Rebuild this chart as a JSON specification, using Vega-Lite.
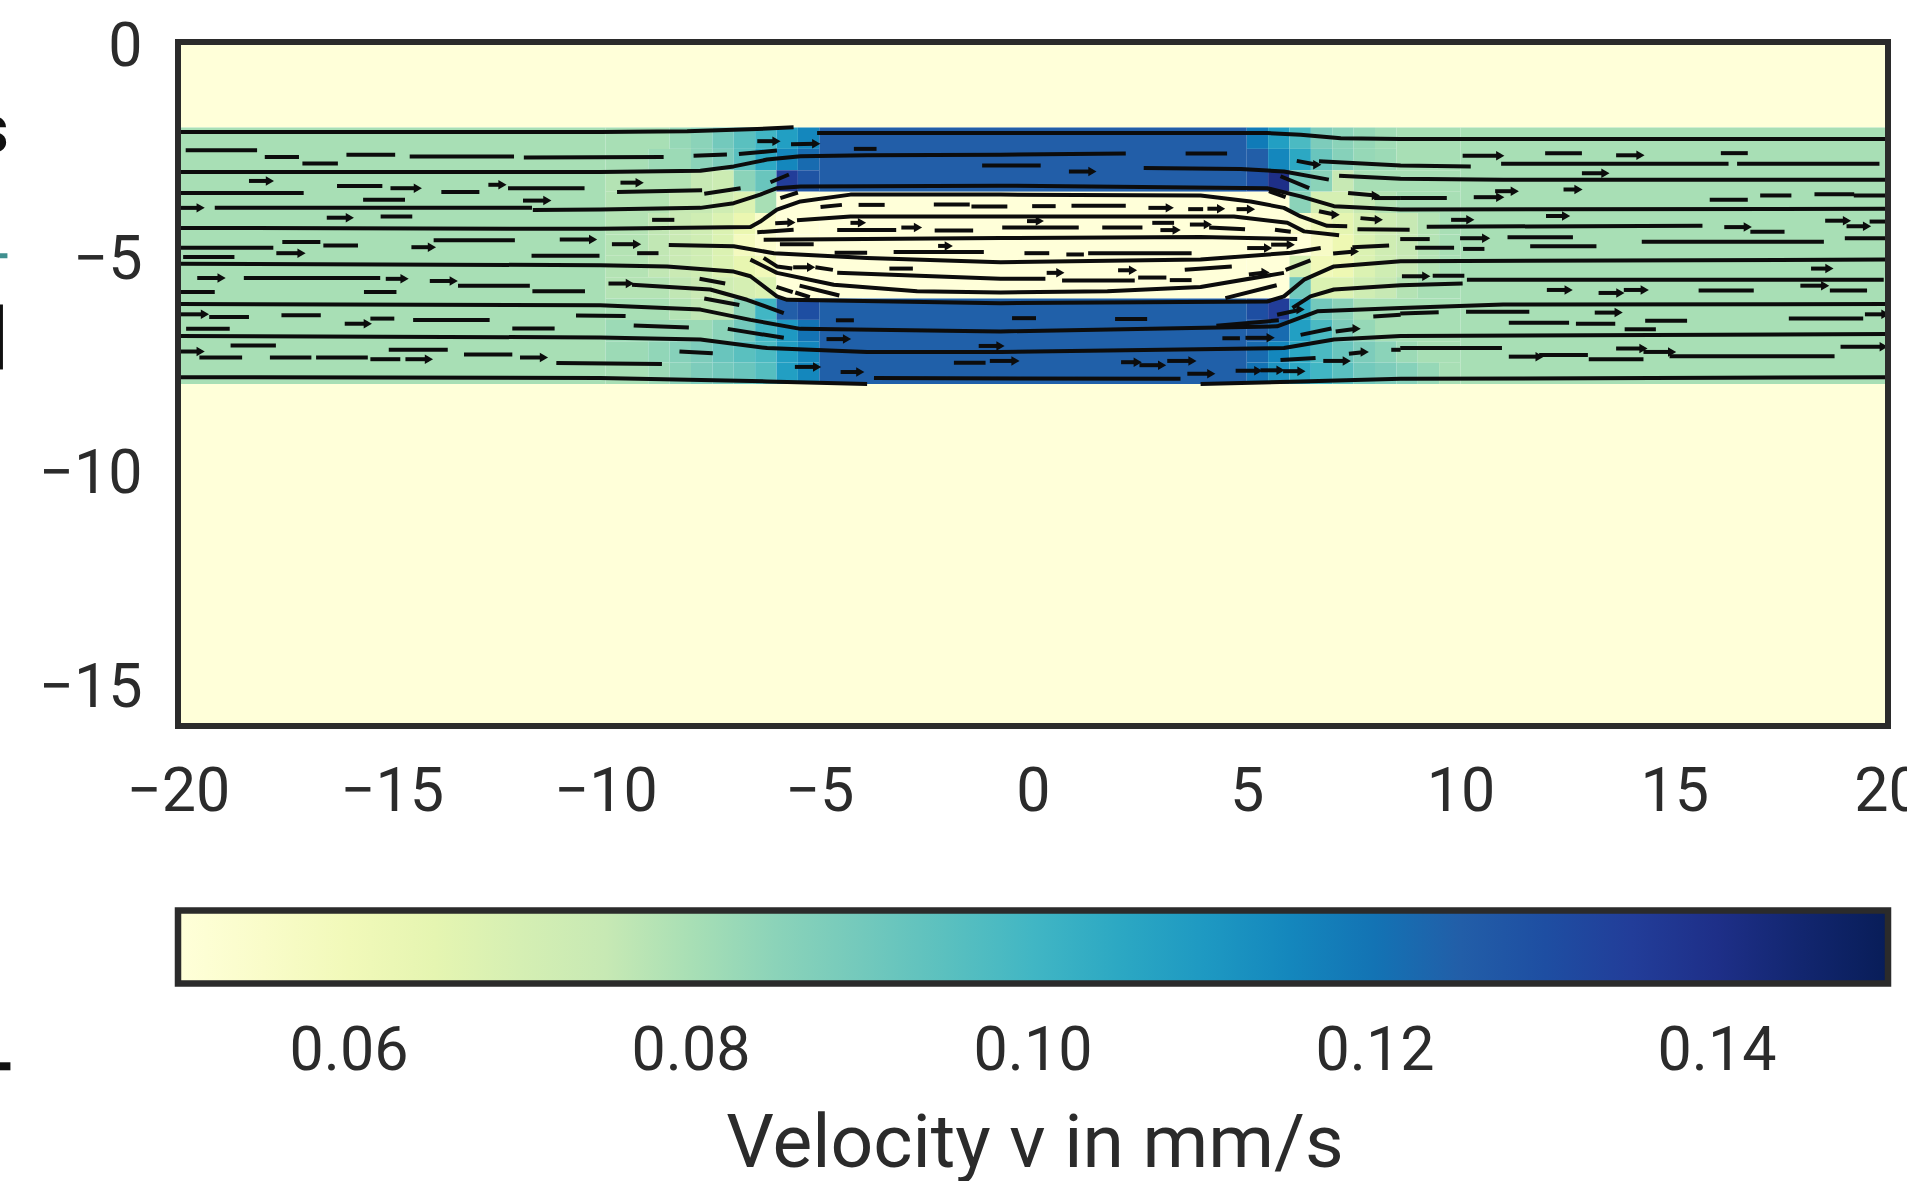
{"$schema":"https://vega.github.io/schema/vega-lite/v6.json","width":1710,"height":684,"autosize":{"type":"none"},"padding":{"left":178,"top":42,"right":19,"bottom":455},"background":"white","config":{"view":{"stroke":null},"font":"Roboto"},
"datasets":{
"cells":[
{"x":-20,"x2":20,"y":0,"y2":-2,"v":0.05},{"x":-20,"x2":20,"y":-8,"y2":-16,"v":0.05},{"x":-20,"x2":-10,"y":-2,"y2":-8,"v":0.08},{"x":10,"x2":20,"y":-2,"y2":-8,"v":0.08},{"x":-5,"x2":5,"y":-2,"y2":-3.5,"v":0.125},{"x":-5,"x2":5,"y":-3.5,"y2":-6,"v":0.05},{"x":-5,"x2":5,"y":-6,"y2":-8,"v":0.1245},
{"x":-10,"x2":-8.5,"y":-2,"y2":-2.5,"v":0.08},{"x":-8.5,"x2":-8,"y":-2,"y2":-2.5,"v":0.083},{"x":-8,"x2":-7.5,"y":-2,"y2":-2.5,"v":0.085},{"x":-7.5,"x2":-7,"y":-2,"y2":-2.5,"v":0.09},{"x":-7,"x2":-6.5,"y":-2,"y2":-2.5,"v":0.095},{"x":-6.5,"x2":-6,"y":-2,"y2":-2.5,"v":0.1},{"x":-6,"x2":-5.5,"y":-2,"y2":-2.5,"v":0.108},{"x":-5.5,"x2":-5,"y":-2,"y2":-2.5,"v":0.115},
{"x":-10,"x2":-9,"y":-2.5,"y2":-3,"v":0.08},{"x":-9,"x2":-8,"y":-2.5,"y2":-3,"v":0.082},{"x":-8,"x2":-7.5,"y":-2.5,"y2":-3,"v":0.085},{"x":-7.5,"x2":-7,"y":-2.5,"y2":-3,"v":0.088},{"x":-7,"x2":-6.5,"y":-2.5,"y2":-3,"v":0.095},{"x":-6.5,"x2":-6,"y":-2.5,"y2":-3,"v":0.105},{"x":-6,"x2":-5.5,"y":-2.5,"y2":-3,"v":0.115},{"x":-5.5,"x2":-5,"y":-2.5,"y2":-3,"v":0.122},
{"x":-10,"x2":-8,"y":-3,"y2":-3.5,"v":0.078},{"x":-8,"x2":-7.5,"y":-3,"y2":-3.5,"v":0.075},{"x":-7.5,"x2":-7,"y":-3,"y2":-3.5,"v":0.073},{"x":-7,"x2":-6.5,"y":-3,"y2":-3.5,"v":0.085},{"x":-6.5,"x2":-6,"y":-3,"y2":-3.5,"v":0.092},{"x":-6,"x2":-5.5,"y":-3,"y2":-3.5,"v":0.135},{"x":-5.5,"x2":-5,"y":-3,"y2":-3.5,"v":0.128},
{"x":-10,"x2":-8.5,"y":-3.5,"y2":-4,"v":0.078},{"x":-8.5,"x2":-7.5,"y":-3.5,"y2":-4,"v":0.075},{"x":-7.5,"x2":-7,"y":-3.5,"y2":-4,"v":0.072},{"x":-7,"x2":-6.5,"y":-3.5,"y2":-4,"v":0.068},{"x":-6.5,"x2":-6,"y":-3.5,"y2":-4,"v":0.08},{"x":-6,"x2":-5,"y":-3.5,"y2":-4,"v":0.05},
{"x":-10,"x2":-9,"y":-4,"y2":-4.5,"v":0.078},{"x":-9,"x2":-8.5,"y":-4,"y2":-4.5,"v":0.076},{"x":-8.5,"x2":-8,"y":-4,"y2":-4.5,"v":0.074},{"x":-8,"x2":-7.5,"y":-4,"y2":-4.5,"v":0.072},{"x":-7.5,"x2":-7,"y":-4,"y2":-4.5,"v":0.068},{"x":-7,"x2":-6.5,"y":-4,"y2":-4.5,"v":0.063},{"x":-6.5,"x2":-6,"y":-4,"y2":-4.5,"v":0.055},{"x":-6,"x2":-5,"y":-4,"y2":-4.5,"v":0.05},
{"x":-10,"x2":-9,"y":-4.5,"y2":-5,"v":0.078},{"x":-9,"x2":-8.5,"y":-4.5,"y2":-5,"v":0.076},{"x":-8.5,"x2":-8,"y":-4.5,"y2":-5,"v":0.074},{"x":-8,"x2":-7.5,"y":-4.5,"y2":-5,"v":0.072},{"x":-7.5,"x2":-7,"y":-4.5,"y2":-5,"v":0.068},{"x":-7,"x2":-6.5,"y":-4.5,"y2":-5,"v":0.058},{"x":-6.5,"x2":-6,"y":-4.5,"y2":-5,"v":0.053},{"x":-6,"x2":-5,"y":-4.5,"y2":-5,"v":0.05},
{"x":-10,"x2":-9,"y":-5,"y2":-5.5,"v":0.078},{"x":-9,"x2":-8.5,"y":-5,"y2":-5.5,"v":0.076},{"x":-8.5,"x2":-8,"y":-5,"y2":-5.5,"v":0.074},{"x":-8,"x2":-7.5,"y":-5,"y2":-5.5,"v":0.072},{"x":-7.5,"x2":-7,"y":-5,"y2":-5.5,"v":0.068},{"x":-7,"x2":-6.5,"y":-5,"y2":-5.5,"v":0.064},{"x":-6.5,"x2":-6,"y":-5,"y2":-5.5,"v":0.06},{"x":-6,"x2":-5,"y":-5,"y2":-5.5,"v":0.05},
{"x":-10,"x2":-8.5,"y":-5.5,"y2":-6,"v":0.078},{"x":-8.5,"x2":-8,"y":-5.5,"y2":-6,"v":0.076},{"x":-8,"x2":-7.5,"y":-5.5,"y2":-6,"v":0.074},{"x":-7.5,"x2":-7,"y":-5.5,"y2":-6,"v":0.072},{"x":-7,"x2":-6.5,"y":-5.5,"y2":-6,"v":0.07},{"x":-6.5,"x2":-6,"y":-5.5,"y2":-6,"v":0.068},{"x":-6,"x2":-5,"y":-5.5,"y2":-6,"v":0.05},
{"x":-10,"x2":-8.5,"y":-6,"y2":-6.5,"v":0.08},{"x":-8.5,"x2":-8,"y":-6,"y2":-6.5,"v":0.078},{"x":-8,"x2":-7,"y":-6,"y2":-6.5,"v":0.076},{"x":-7,"x2":-6.5,"y":-6,"y2":-6.5,"v":0.085},{"x":-6.5,"x2":-6,"y":-6,"y2":-6.5,"v":0.1},{"x":-6,"x2":-5.5,"y":-6,"y2":-6.5,"v":0.125},{"x":-5.5,"x2":-5,"y":-6,"y2":-6.5,"v":0.13},
{"x":-10,"x2":-7.5,"y":-6.5,"y2":-7,"v":0.082},{"x":-7.5,"x2":-7,"y":-6.5,"y2":-7,"v":0.085},{"x":-7,"x2":-6.5,"y":-6.5,"y2":-7,"v":0.09},{"x":-6.5,"x2":-6,"y":-6.5,"y2":-7,"v":0.1},{"x":-6,"x2":-5.5,"y":-6.5,"y2":-7,"v":0.11},{"x":-5.5,"x2":-5,"y":-6.5,"y2":-7,"v":0.12},
{"x":-10,"x2":-9,"y":-7,"y2":-7.5,"v":0.082},{"x":-9,"x2":-8.5,"y":-7,"y2":-7.5,"v":0.084},{"x":-8.5,"x2":-8,"y":-7,"y2":-7.5,"v":0.086},{"x":-8,"x2":-7.5,"y":-7,"y2":-7.5,"v":0.088},{"x":-7.5,"x2":-7,"y":-7,"y2":-7.5,"v":0.092},{"x":-7,"x2":-6.5,"y":-7,"y2":-7.5,"v":0.095},{"x":-6.5,"x2":-6,"y":-7,"y2":-7.5,"v":0.098},{"x":-6,"x2":-5.5,"y":-7,"y2":-7.5,"v":0.108},{"x":-5.5,"x2":-5,"y":-7,"y2":-7.5,"v":0.115},
{"x":-10,"x2":-9,"y":-7.5,"y2":-8,"v":0.08},{"x":-9,"x2":-8.5,"y":-7.5,"y2":-8,"v":0.082},{"x":-8.5,"x2":-8,"y":-7.5,"y2":-8,"v":0.085},{"x":-8,"x2":-7.5,"y":-7.5,"y2":-8,"v":0.088},{"x":-7.5,"x2":-7,"y":-7.5,"y2":-8,"v":0.09},{"x":-7,"x2":-6.5,"y":-7.5,"y2":-8,"v":0.092},{"x":-6.5,"x2":-6,"y":-7.5,"y2":-8,"v":0.096},{"x":-6,"x2":-5.5,"y":-7.5,"y2":-8,"v":0.108},{"x":-5.5,"x2":-5,"y":-7.5,"y2":-8,"v":0.115},
{"x":5,"x2":5.5,"y":-2,"y2":-2.5,"v":0.118},{"x":5.5,"x2":6,"y":-2,"y2":-2.5,"v":0.108},{"x":6,"x2":6.5,"y":-2,"y2":-2.5,"v":0.098},{"x":6.5,"x2":7,"y":-2,"y2":-2.5,"v":0.088},{"x":7,"x2":7.5,"y":-2,"y2":-2.5,"v":0.085},{"x":7.5,"x2":8,"y":-2,"y2":-2.5,"v":0.083},{"x":8,"x2":8.5,"y":-2,"y2":-2.5,"v":0.081},{"x":8.5,"x2":10,"y":-2,"y2":-2.5,"v":0.08},
{"x":5,"x2":5.5,"y":-2.5,"y2":-3,"v":0.125},{"x":5.5,"x2":6,"y":-2.5,"y2":-3,"v":0.115},{"x":6,"x2":6.5,"y":-2.5,"y2":-3,"v":0.105},{"x":6.5,"x2":7,"y":-2.5,"y2":-3,"v":0.092},{"x":7,"x2":7.5,"y":-2.5,"y2":-3,"v":0.086},{"x":7.5,"x2":8,"y":-2.5,"y2":-3,"v":0.083},{"x":8,"x2":8.5,"y":-2.5,"y2":-3,"v":0.082},{"x":8.5,"x2":10,"y":-2.5,"y2":-3,"v":0.08},
{"x":5,"x2":5.5,"y":-3,"y2":-3.5,"v":0.13},{"x":5.5,"x2":6,"y":-3,"y2":-3.5,"v":0.14},{"x":6,"x2":6.5,"y":-3,"y2":-3.5,"v":0.09},{"x":6.5,"x2":7,"y":-3,"y2":-3.5,"v":0.085},{"x":7,"x2":7.5,"y":-3,"y2":-3.5,"v":0.075},{"x":7.5,"x2":10,"y":-3,"y2":-3.5,"v":0.08},
{"x":5,"x2":6,"y":-3.5,"y2":-4,"v":0.05},{"x":6,"x2":6.5,"y":-3.5,"y2":-4,"v":0.085},{"x":6.5,"x2":7.5,"y":-3.5,"y2":-4,"v":0.07},{"x":7.5,"x2":8,"y":-3.5,"y2":-4,"v":0.075},{"x":8,"x2":8.5,"y":-3.5,"y2":-4,"v":0.078},{"x":8.5,"x2":10,"y":-3.5,"y2":-4,"v":0.08},
{"x":5,"x2":6,"y":-4,"y2":-4.5,"v":0.05},{"x":6,"x2":6.5,"y":-4,"y2":-4.5,"v":0.055},{"x":6.5,"x2":7,"y":-4,"y2":-4.5,"v":0.06},{"x":7,"x2":7.5,"y":-4,"y2":-4.5,"v":0.065},{"x":7.5,"x2":8,"y":-4,"y2":-4.5,"v":0.07},{"x":8,"x2":8.5,"y":-4,"y2":-4.5,"v":0.072},{"x":8.5,"x2":9,"y":-4,"y2":-4.5,"v":0.075},{"x":9,"x2":9.5,"y":-4,"y2":-4.5,"v":0.078},{"x":9.5,"x2":10,"y":-4,"y2":-4.5,"v":0.08},
{"x":5,"x2":6.5,"y":-4.5,"y2":-5,"v":0.05},{"x":6.5,"x2":7,"y":-4.5,"y2":-5,"v":0.056},{"x":7,"x2":7.5,"y":-4.5,"y2":-5,"v":0.062},{"x":7.5,"x2":8,"y":-4.5,"y2":-5,"v":0.068},{"x":8,"x2":8.5,"y":-4.5,"y2":-5,"v":0.072},{"x":8.5,"x2":9,"y":-4.5,"y2":-5,"v":0.075},{"x":9,"x2":9.5,"y":-4.5,"y2":-5,"v":0.078},{"x":9.5,"x2":10,"y":-4.5,"y2":-5,"v":0.08},
{"x":5,"x2":6,"y":-5,"y2":-5.5,"v":0.05},{"x":6,"x2":6.5,"y":-5,"y2":-5.5,"v":0.07},{"x":6.5,"x2":7,"y":-5,"y2":-5.5,"v":0.06},{"x":7,"x2":7.5,"y":-5,"y2":-5.5,"v":0.062},{"x":7.5,"x2":8,"y":-5,"y2":-5.5,"v":0.068},{"x":8,"x2":8.5,"y":-5,"y2":-5.5,"v":0.072},{"x":8.5,"x2":9,"y":-5,"y2":-5.5,"v":0.075},{"x":9,"x2":9.5,"y":-5,"y2":-5.5,"v":0.078},{"x":9.5,"x2":10,"y":-5,"y2":-5.5,"v":0.08},
{"x":5,"x2":6,"y":-5.5,"y2":-6,"v":0.05},{"x":6,"x2":6.5,"y":-5.5,"y2":-6,"v":0.09},{"x":6.5,"x2":7.5,"y":-5.5,"y2":-6,"v":0.068},{"x":7.5,"x2":8,"y":-5.5,"y2":-6,"v":0.072},{"x":8,"x2":8.5,"y":-5.5,"y2":-6,"v":0.075},{"x":8.5,"x2":9,"y":-5.5,"y2":-6,"v":0.078},{"x":9,"x2":10,"y":-5.5,"y2":-6,"v":0.08},
{"x":5,"x2":5.5,"y":-6,"y2":-6.5,"v":0.13},{"x":5.5,"x2":6,"y":-6,"y2":-6.5,"v":0.135},{"x":6,"x2":6.5,"y":-6,"y2":-6.5,"v":0.105},{"x":6.5,"x2":7,"y":-6,"y2":-6.5,"v":0.09},{"x":7,"x2":7.5,"y":-6,"y2":-6.5,"v":0.085},{"x":7.5,"x2":10,"y":-6,"y2":-6.5,"v":0.08},
{"x":5,"x2":5.5,"y":-6.5,"y2":-7,"v":0.125},{"x":5.5,"x2":6,"y":-6.5,"y2":-7,"v":0.122},{"x":6,"x2":6.5,"y":-6.5,"y2":-7,"v":0.108},{"x":6.5,"x2":7,"y":-6.5,"y2":-7,"v":0.098},{"x":7,"x2":7.5,"y":-6.5,"y2":-7,"v":0.088},{"x":7.5,"x2":8,"y":-6.5,"y2":-7,"v":0.083},{"x":8,"x2":10,"y":-6.5,"y2":-7,"v":0.08},
{"x":5,"x2":5.5,"y":-7,"y2":-7.5,"v":0.122},{"x":5.5,"x2":6,"y":-7,"y2":-7.5,"v":0.115},{"x":6,"x2":6.5,"y":-7,"y2":-7.5,"v":0.105},{"x":6.5,"x2":7,"y":-7,"y2":-7.5,"v":0.098},{"x":7,"x2":7.5,"y":-7,"y2":-7.5,"v":0.092},{"x":7.5,"x2":8,"y":-7,"y2":-7.5,"v":0.088},{"x":8,"x2":8.5,"y":-7,"y2":-7.5,"v":0.085},{"x":8.5,"x2":9,"y":-7,"y2":-7.5,"v":0.082},{"x":9,"x2":10,"y":-7,"y2":-7.5,"v":0.08},
{"x":5,"x2":5.5,"y":-7.5,"y2":-8,"v":0.12},{"x":5.5,"x2":6,"y":-7.5,"y2":-8,"v":0.112},{"x":6,"x2":6.5,"y":-7.5,"y2":-8,"v":0.105},{"x":6.5,"x2":7,"y":-7.5,"y2":-8,"v":0.1},{"x":7,"x2":7.5,"y":-7.5,"y2":-8,"v":0.095},{"x":7.5,"x2":8,"y":-7.5,"y2":-8,"v":0.09},{"x":8,"x2":8.5,"y":-7.5,"y2":-8,"v":0.088},{"x":8.5,"x2":9,"y":-7.5,"y2":-8,"v":0.086},{"x":9,"x2":9.5,"y":-7.5,"y2":-8,"v":0.083},{"x":9.5,"x2":10,"y":-7.5,"y2":-8,"v":0.08}
],
"lines":[
{"s":"A","x":-20,"y":-2.105},{"s":"A","x":-10.12,"y":-2.105},{"s":"A","x":-8.09,"y":-2.09},{"s":"A","x":-6.45,"y":-2.035},{"s":"A","x":-5.6,"y":-1.996},
{"s":"A2","x":-5.05,"y":-2.13},{"s":"A2","x":5.48,"y":-2.13},{"s":"A2","x":6.26,"y":-2.17},{"s":"A2","x":7.2,"y":-2.25},{"s":"A2","x":8.6,"y":-2.27},{"s":"A2","x":20,"y":-2.27},
{"s":"B","x":-20,"y":-3.04},{"s":"B","x":-10.12,"y":-3.04},{"s":"B","x":-7.78,"y":-3.01},{"s":"B","x":-7,"y":-2.91},{"s":"B","x":-6.22,"y":-2.75},{"s":"B","x":-5.44,"y":-2.67},{"s":"B","x":-3.88,"y":-2.65},{"s":"B","x":-0.76,"y":-2.636},{"s":"B","x":2.17,"y":-2.61},
{"s":"B2","x":2.59,"y":-2.95},{"s":"B2","x":4.86,"y":-2.97},{"s":"B2","x":5.87,"y":-3.03},{"s":"B2","x":6.92,"y":-3.22},
{"s":"B3","x":6.69,"y":-2.79},{"s":"B3","x":8.6,"y":-2.89},{"s":"B3","x":10.24,"y":-2.91},
{"s":"B4","x":7.16,"y":-3.13},{"s":"B4","x":8.6,"y":-3.2},{"s":"B4","x":11,"y":-3.22},{"s":"B4","x":20,"y":-3.22},
{"s":"C","x":-19.14,"y":-3.88},{"s":"C","x":-11.72,"y":-3.88},{"s":"C0","x":-11.7,"y":-3.93},{"s":"C0","x":-10.12,"y":-3.92},{"s":"C0","x":-7.78,"y":-3.88},{"s":"C0","x":-7,"y":-3.77},{"s":"C0","x":-6.38,"y":-3.57},{"s":"C0","x":-5.99,"y":-3.42},{"s":"C0","x":-5.44,"y":-3.38},{"s":"C0","x":-0.76,"y":-3.36},{"s":"C0","x":5.48,"y":-3.42},{"s":"C0","x":6.26,"y":-3.61},{"s":"C0","x":7.04,"y":-3.84},{"s":"C0","x":8.6,"y":-3.92},{"s":"C0","x":20,"y":-3.9},
{"s":"D","x":-20,"y":-4.35},{"s":"D","x":-10.12,"y":-4.37},{"s":"D","x":-6.61,"y":-4.33},{"s":"D","x":-6.38,"y":-4.2},{"s":"D","x":-5.99,"y":-3.92},{"s":"D","x":-5.44,"y":-3.73},{"s":"D","x":-4.27,"y":-3.57},{"s":"D","x":-0.76,"y":-3.57},{"s":"D","x":3.92,"y":-3.59},{"s":"D","x":5.09,"y":-3.73},{"s":"D","x":5.87,"y":-3.88},{"s":"D","x":6.26,"y":-4.08},{"s":"D","x":6.88,"y":-4.3},{"s":"D","x":7.35,"y":-4.31},
{"s":"D2","x":9.21,"y":-4.32},{"s":"D2","x":15.66,"y":-4.3},
{"s":"D3","x":-5.52,"y":-4.17},{"s":"D3","x":-4.27,"y":-4.08},{"s":"D3","x":-0.76,"y":-4.08},{"s":"D3","x":4.7,"y":-4.08},{"s":"D3","x":5.95,"y":-4.23},{"s":"D3","x":6.34,"y":-4.43},{"s":"D3","x":7.16,"y":-4.52},
{"s":"D4","x":-6.3,"y":-4.625},{"s":"D4","x":-0.76,"y":-4.586},{"s":"D4","x":3.92,"y":-4.56},{"s":"D4","x":6.18,"y":-4.61},
{"s":"E","x":-8.52,"y":-4.75},{"s":"E","x":-7,"y":-4.78},{"s":"E","x":-6.06,"y":-4.94},{"s":"E","x":-3.88,"y":-5.05},{"s":"E","x":-0.76,"y":-5.15},{"s":"E","x":3.92,"y":-5.09},{"s":"E","x":6.03,"y":-4.93},{"s":"E","x":6.73,"y":-4.82},
{"s":"F","x":-20,"y":-5.19},{"s":"F","x":-10.12,"y":-5.22},{"s":"F","x":-8.56,"y":-5.25},{"s":"F","x":-7,"y":-5.37},{"s":"F","x":-6.61,"y":-5.48},{"s":"F","x":-5.99,"y":-5.95},{"s":"F","x":-5.75,"y":-6.03},{"s":"F","x":-0.76,"y":-6.11},{"s":"F","x":5.48,"y":-6.07},{"s":"F","x":5.87,"y":-5.95},{"s":"F","x":6.34,"y":-5.56},{"s":"F","x":7.04,"y":-5.25},{"s":"F","x":8.6,"y":-5.13},{"s":"F","x":20,"y":-5.09},
{"s":"G","x":-9.38,"y":-5.68},{"s":"G","x":-7.55,"y":-5.79},{"s":"G","x":-6.69,"y":-6.03},{"s":"G","x":-5.83,"y":-6.34},
{"s":"H","x":-6.61,"y":-5.09},{"s":"H","x":-5.99,"y":-5.4},{"s":"H","x":-4.66,"y":-5.68},{"s":"H","x":-2.71,"y":-5.83},{"s":"H","x":-0.76,"y":-5.86},{"s":"H","x":1.74,"y":-5.83},{"s":"H","x":3.92,"y":-5.73},{"s":"H","x":5.87,"y":-5.4},
{"s":"H2","x":-4.58,"y":-5.4},{"s":"H2","x":-0.76,"y":-5.54},{"s":"H2","x":0.29,"y":-5.54},
{"s":"H3","x":-6.3,"y":-5.05},{"s":"H3","x":-5.99,"y":-5.25},{"s":"H3","x":-5.63,"y":-5.3},
{"s":"I","x":-20,"y":-6.13},{"s":"I","x":-10.12,"y":-6.16},{"s":"I","x":-7.78,"y":-6.26},{"s":"I","x":-6.61,"y":-6.5},{"s":"I","x":-5.44,"y":-6.71},{"s":"I","x":-0.76,"y":-6.77},{"s":"I","x":5.71,"y":-6.65},{"s":"I","x":6.65,"y":-6.3},{"s":"I","x":8.6,"y":-6.22},{"s":"I","x":11,"y":-6.14},{"s":"I","x":20,"y":-6.13},
{"s":"I2","x":6.07,"y":-6.22},{"s":"I2","x":6.49,"y":-5.95},{"s":"I2","x":7.04,"y":-5.79},{"s":"I2","x":8.6,"y":-5.69},{"s":"I2","x":10.05,"y":-5.65},
{"s":"I3","x":10.15,"y":-5.56},{"s":"I3","x":19.9,"y":-5.56},
{"s":"J","x":-20,"y":-6.88},{"s":"J","x":-10.12,"y":-6.91},{"s":"J","x":-7.78,"y":-6.96},{"s":"J","x":-6.22,"y":-7.16},{"s":"J","x":-3.88,"y":-7.25},{"s":"J","x":-0.76,"y":-7.25},{"s":"J","x":5.87,"y":-7.16},{"s":"J","x":7.04,"y":-6.96},{"s":"J","x":8.6,"y":-6.88},{"s":"J","x":20,"y":-6.83},
{"s":"K","x":-20,"y":-7.84},{"s":"K","x":-10.12,"y":-7.86},{"s":"K","x":-6.22,"y":-7.94},{"s":"K","x":-3.88,"y":-8},
{"s":"K2","x":-3.72,"y":-7.86},{"s":"K2","x":3.45,"y":-7.88},
{"s":"K3","x":3.92,"y":-8},{"s":"K3","x":6.26,"y":-7.94},{"s":"K3","x":8.6,"y":-7.88},{"s":"K3","x":20,"y":-7.84}
],
"dashes":[
{"x":-19.82,"x2":-18.15,"y":-2.53,"y2":-2.53},{"x":-17.97,"x2":-17.17,"y":-2.69,"y2":-2.69},{"x":-17.09,"x2":-16.26,"y":-2.84,"y2":-2.84},{"x":-16.06,"x2":-14.92,"y":-2.64,"y2":-2.64},{"x":-18.34,"x2":-17.85,"y":-3.25,"y2":-3.25,"a":1},{"x":-16.28,"x2":-15.22,"y":-3.37,"y2":-3.37},{"x":-19.93,"x2":-17.06,"y":-3.53,"y2":-3.53},{"x":-15.67,"x2":-14.69,"y":-3.69,"y2":-3.69},{"x":-19.93,"x2":-19.47,"y":-3.88,"y2":-3.88,"a":1},{"x":-16.52,"x2":-15.98,"y":-4.11,"y2":-4.11,"a":1},{"x":-15.26,"x2":-14.52,"y":-4.08,"y2":-4.08},{"x":-19.93,"x2":-17.77,"y":-4.81,"y2":-4.81},{"x":-19.88,"x2":-18.68,"y":-5.03,"y2":-5.03},{"x":-17.56,"x2":-16.67,"y":-4.68,"y2":-4.68},{"x":-16.6,"x2":-15.79,"y":-4.76,"y2":-4.76},{"x":-17.7,"x2":-17.11,"y":-4.94,"y2":-4.94,"a":1},{"x":-19.55,"x2":-18.98,"y":-5.52,"y2":-5.52,"a":1},{"x":-18.46,"x2":-15.27,"y":-5.52,"y2":-5.52},{"x":-15.14,"x2":-14.7,"y":-5.54,"y2":-5.54,"a":1},{"x":-19.93,"x2":-19.14,"y":-5.85,"y2":-5.85},{"x":-15.65,"x2":-14.89,"y":-5.85,"y2":-5.85},{"x":-19.93,"x2":-19.37,"y":-6.37,"y2":-6.37,"a":1},{"x":-19.27,"x2":-18.34,"y":-6.43,"y2":-6.43},{"x":-17.58,"x2":-16.66,"y":-6.39,"y2":-6.39},{"x":-16.1,"x2":-15.56,"y":-6.59,"y2":-6.59,"a":1},{"x":-15.5,"x2":-14.94,"y":-6.47,"y2":-6.47},{"x":-19.81,"x2":-18.79,"y":-6.71,"y2":-6.71},{"x":-18.77,"x2":-17.71,"y":-7.1,"y2":-7.1},{"x":-19.93,"x2":-19.47,"y":-7.24,"y2":-7.24,"a":1},{"x":-19.5,"x2":-18.5,"y":-7.38,"y2":-7.38},{"x":-17.85,"x2":-16.88,"y":-7.38,"y2":-7.38},{"x":-16.77,"x2":-15.56,"y":-7.38,"y2":-7.38},{"x":-15.5,"x2":-14.8,"y":-7.42,"y2":-7.42},{"x":-15.07,"x2":-13.69,"y":-7.2,"y2":-7.2},
{"x":-14.58,"x2":-12.14,"y":-2.68,"y2":-2.68},{"x":-11.91,"x2":-8.64,"y":-2.7,"y2":-2.69},{"x":-7.94,"x2":-7.16,"y":-2.66,"y2":-2.63},{"x":-6.88,"x2":-5.99,"y":-2.62,"y2":-2.54},{"x":-15.03,"x2":-14.39,"y":-3.42,"y2":-3.42,"a":1},{"x":-13.84,"x2":-12.95,"y":-3.51,"y2":-3.51},{"x":-12.74,"x2":-12.41,"y":-3.34,"y2":-3.34,"a":1},{"x":-12.28,"x2":-10.49,"y":-3.42,"y2":-3.42},{"x":-11.93,"x2":-11.36,"y":-3.71,"y2":-3.71,"a":1},{"x":-14.02,"x2":-12.12,"y":-4.64,"y2":-4.64},{"x":-14.54,"x2":-14.06,"y":-4.8,"y2":-4.8,"a":1},{"x":-11.07,"x2":-10.29,"y":-4.62,"y2":-4.62,"a":1},{"x":-11.73,"x2":-10.14,"y":-5,"y2":-5},{"x":-14.11,"x2":-13.55,"y":-5.59,"y2":-5.59,"a":1},{"x":-13.45,"x2":-11.77,"y":-5.7,"y2":-5.7},{"x":-11.71,"x2":-10.48,"y":-5.83,"y2":-5.83},{"x":-9.93,"x2":-9.43,"y":-5.65,"y2":-5.65,"a":1},{"x":-14.5,"x2":-12.71,"y":-6.5,"y2":-6.5},{"x":-12.18,"x2":-11.19,"y":-6.7,"y2":-6.7},{"x":-10.69,"x2":-9.53,"y":-6.4,"y2":-6.41},{"x":-13.31,"x2":-12.18,"y":-7.31,"y2":-7.31},{"x":-12,"x2":-11.44,"y":-7.38,"y2":-7.38,"a":1},{"x":-14.68,"x2":-14.13,"y":-7.42,"y2":-7.42,"a":1},{"x":-11.15,"x2":-8.68,"y":-7.51,"y2":-7.53},
{"x":-6.45,"x2":-6,"y":-2.32,"y2":-2.32,"a":1},{"x":-5.66,"x2":-5.07,"y":-2.39,"y2":-2.38,"a":1},{"x":-4.19,"x2":-3.66,"y":-2.5,"y2":-2.5},{"x":-1.19,"x2":0.18,"y":-2.89,"y2":-2.89},{"x":-6.14,"x2":-5.71,"y":-3.28,"y2":-3.1},{"x":-9.65,"x2":-9.2,"y":-3.29,"y2":-3.29,"a":1},{"x":-9.73,"x2":-7.74,"y":-3.51,"y2":-3.47},{"x":-7.69,"x2":-6.84,"y":-3.55,"y2":-3.42},{"x":-5.91,"x2":-5.5,"y":-3.65,"y2":-3.52},{"x":-8.91,"x2":-8.39,"y":-4.16,"y2":-4.16},{"x":-6.03,"x2":-5.65,"y":-4.24,"y2":-4.22,"a":1},{"x":-4.97,"x2":-4.47,"y":-3.86,"y2":-3.81},{"x":-4.08,"x2":-3.47,"y":-3.81,"y2":-3.81},{"x":-2.32,"x2":-1.48,"y":-3.8,"y2":-3.8},{"x":-1.44,"x2":-0.6,"y":-3.85,"y2":-3.85},{"x":-4.27,"x2":-4,"y":-4.23,"y2":-4.23,"a":1},{"x":-4.58,"x2":-3.2,"y":-4.4,"y2":-4.4},{"x":-3.08,"x2":-2.69,"y":-4.34,"y2":-4.34,"a":1},{"x":-2.3,"x2":-1.4,"y":-4.41,"y2":-4.41},{"x":-6.45,"x2":-5.6,"y":-4.45,"y2":-4.39},{"x":-5.92,"x2":-5.13,"y":-4.73,"y2":-4.73},{"x":-2.22,"x2":-1.97,"y":-4.77,"y2":-4.77,"a":1},{"x":-4.64,"x2":-3.88,"y":-4.93,"y2":-4.93},{"x":-3.26,"x2":-1.15,"y":-4.91,"y2":-4.91},{"x":-9.85,"x2":-9.26,"y":-4.73,"y2":-4.73,"a":1},{"x":-9.26,"x2":-8.76,"y":-4.94,"y2":-4.94},{"x":-5.61,"x2":-5.19,"y":-5.27,"y2":-5.27,"a":1},{"x":-5.09,"x2":-4.68,"y":-5.27,"y2":-5.33},{"x":-3.36,"x2":-2.81,"y":-5.3,"y2":-5.3},{"x":-7.8,"x2":-7.2,"y":-5.54,"y2":-5.65},{"x":-7.69,"x2":-6.87,"y":-6,"y2":-6.15},{"x":-6,"x2":-5.62,"y":-5.73,"y2":-5.85},{"x":-5.56,"x2":-5.22,"y":-5.86,"y2":-5.97},{"x":-5.46,"x2":-4.53,"y":-5.7,"y2":-5.93},{"x":-9.34,"x2":-8.05,"y":-6.63,"y2":-6.68},{"x":-7.14,"x2":-5.83,"y":-6.71,"y2":-6.92},{"x":-4.61,"x2":-4.19,"y":-6.51,"y2":-6.51},{"x":-4.83,"x2":-4.35,"y":-6.95,"y2":-6.95,"a":1},{"x":-8.27,"x2":-7.49,"y":-7.24,"y2":-7.28},{"x":-5.57,"x2":-5.05,"y":-7.6,"y2":-7.6,"a":1},{"x":-4.5,"x2":-4.04,"y":-7.72,"y2":-7.72,"a":1},{"x":-1.85,"x2":-1.11,"y":-7.5,"y2":-7.5},{"x":-1.01,"x2":-0.41,"y":-7.46,"y2":-7.46,"a":1},{"x":-1.27,"x2":-0.76,"y":-7.11,"y2":-7.11,"a":1},
{"x":0.84,"x2":1.39,"y":-3.03,"y2":-3.03,"a":1},{"x":-0.02,"x2":0.53,"y":-3.84,"y2":-3.84},{"x":0.9,"x2":2.17,"y":-3.83,"y2":-3.83},{"x":2.7,"x2":3.2,"y":-3.88,"y2":-3.88,"a":1},{"x":3.63,"x2":3.98,"y":-3.91,"y2":-3.91},{"x":4.08,"x2":4.4,"y":-3.9,"y2":-3.9,"a":1},{"x":4.76,"x2":5.1,"y":-3.91,"y2":-3.91,"a":1},{"x":-0.14,"x2":0.16,"y":-4.19,"y2":-4.19,"a":1},{"x":-0.72,"x2":1.07,"y":-4.34,"y2":-4.34},{"x":1.62,"x2":2.56,"y":-4.34,"y2":-4.34},{"x":2.79,"x2":3.3,"y":-4.23,"y2":-4.23},{"x":2.98,"x2":3.36,"y":-4.4,"y2":-4.4,"a":1},{"x":3.67,"x2":4.09,"y":-4.27,"y2":-4.27,"a":1},{"x":4.12,"x2":4.96,"y":-4.34,"y2":-4.38},{"x":5.66,"x2":6.03,"y":-4.39,"y2":-4.44},{"x":5.01,"x2":5.5,"y":-4.82,"y2":-4.82,"a":1},{"x":5.57,"x2":6.03,"y":-4.74,"y2":-4.74,"a":1},{"x":-0.2,"x2":0.38,"y":-4.94,"y2":-4.94},{"x":0.78,"x2":1.19,"y":-4.97,"y2":-4.97},{"x":1.29,"x2":3.71,"y":-4.94,"y2":-4.94},{"x":0.32,"x2":0.64,"y":-5.4,"y2":-5.4,"a":1},{"x":1.99,"x2":2.34,"y":-5.34,"y2":-5.34,"a":1},{"x":0.68,"x2":2.38,"y":-5.58,"y2":-5.58},{"x":2.46,"x2":3.12,"y":-5.51,"y2":-5.51},{"x":3.2,"x2":3.71,"y":-5.57,"y2":-5.57},{"x":3.55,"x2":4.65,"y":-5.33,"y2":-5.25},{"x":5.05,"x2":5.44,"y":-5.44,"y2":-5.39,"a":1},{"x":5.91,"x2":6.49,"y":-5.33,"y2":-5.11},{"x":4.5,"x2":5.7,"y":-5.99,"y2":-5.69},{"x":-0.49,"x2":0.07,"y":-6.46,"y2":-6.46},{"x":1.92,"x2":2.67,"y":-6.48,"y2":-6.48},{"x":4.29,"x2":5.75,"y":-6.64,"y2":-6.51},{"x":5.71,"x2":6.26,"y":-6.38,"y2":-6.26,"a":1},{"x":4.43,"x2":4.84,"y":-6.93,"y2":-6.93},{"x":4.97,"x2":5.56,"y":-6.92,"y2":-6.92,"a":1},{"x":6.26,"x2":6.98,"y":-6.85,"y2":-6.7},{"x":7.08,"x2":7.57,"y":-6.77,"y2":-6.71,"a":1},{"x":2.06,"x2":2.45,"y":-7.49,"y2":-7.49,"a":1},{"x":2.49,"x2":3.02,"y":-7.56,"y2":-7.56,"a":1},{"x":3.14,"x2":3.73,"y":-7.46,"y2":-7.46,"a":1},{"x":3.61,"x2":4.17,"y":-7.76,"y2":-7.76,"a":1},{"x":4.74,"x2":5.27,"y":-7.69,"y2":-7.69,"a":1},{"x":5.32,"x2":5.79,"y":-7.68,"y2":-7.68,"a":1},{"x":5.85,"x2":6.28,"y":-7.7,"y2":-7.7,"a":1},{"x":5.79,"x2":6.61,"y":-7.44,"y2":-7.39},{"x":6.79,"x2":7.34,"y":-7.46,"y2":-7.46,"a":1},{"x":7.39,"x2":7.76,"y":-7.29,"y2":-7.25,"a":1},{"x":8.38,"x2":8.6,"y":-7.2,"y2":-7.2},{"x":7.96,"x2":8.6,"y":-6.42,"y2":-6.38},{"x":6.17,"x2":6.65,"y":-2.78,"y2":-2.87,"a":1},{"x":5.79,"x2":6.46,"y":-3.14,"y2":-3.42},{"x":5.52,"x2":5.91,"y":-3.49,"y2":-3.63},{"x":6.69,"x2":7.08,"y":-3.96,"y2":-4.04,"a":1},{"x":7.66,"x2":8.09,"y":-4.12,"y2":-4.16,"a":1},{"x":7.37,"x2":8.02,"y":-3.53,"y2":-3.59,"a":1},{"x":7.02,"x2":7.53,"y":-4.95,"y2":-4.9,"a":1},{"x":7.47,"x2":8.33,"y":-4.8,"y2":-4.76},{"x":7.59,"x2":8.81,"y":-4.38,"y2":-4.39},{"x":3.57,"x2":4.54,"y":-2.61,"y2":-2.61},{"x":7.98,"x2":8.6,"y":-3.65,"y2":-3.65},
{"x":10.05,"x2":10.93,"y":-2.66,"y2":-2.66,"a":1},{"x":11.98,"x2":12.84,"y":-2.6,"y2":-2.6},{"x":13.64,"x2":14.21,"y":-2.65,"y2":-2.65,"a":1},{"x":10.95,"x2":16.27,"y":-2.85,"y2":-2.85},{"x":16.47,"x2":19.8,"y":-2.85,"y2":-2.85},{"x":12.84,"x2":13.39,"y":-3.07,"y2":-3.07,"a":1},{"x":10.31,"x2":10.93,"y":-3.63,"y2":-3.63,"a":1},{"x":10.81,"x2":11.27,"y":-3.49,"y2":-3.49,"a":1},{"x":12.41,"x2":12.76,"y":-3.45,"y2":-3.45,"a":1},{"x":9.78,"x2":10.23,"y":-4.16,"y2":-4.16,"a":1},{"x":12,"x2":12.47,"y":-4.07,"y2":-4.07,"a":1},{"x":9.99,"x2":10.6,"y":-4.59,"y2":-4.59,"a":1},{"x":11.1,"x2":12.63,"y":-4.57,"y2":-4.57},{"x":8.94,"x2":9.85,"y":-4.81,"y2":-4.81},{"x":10.06,"x2":10.56,"y":-4.84,"y2":-4.84},{"x":11.63,"x2":13.18,"y":-4.78,"y2":-4.78},{"x":14.24,"x2":18.5,"y":-4.67,"y2":-4.67},{"x":8.63,"x2":9.2,"y":-5.48,"y2":-5.48,"a":1},{"x":9.35,"x2":10.09,"y":-5.47,"y2":-5.47},{"x":12.02,"x2":12.53,"y":-5.8,"y2":-5.8,"a":1},{"x":13.23,"x2":13.74,"y":-5.87,"y2":-5.87,"a":1},{"x":13.82,"x2":14.31,"y":-5.8,"y2":-5.8,"a":1},{"x":10.13,"x2":11.61,"y":-6.31,"y2":-6.31},{"x":13.14,"x2":13.7,"y":-6.33,"y2":-6.33,"a":1},{"x":11.13,"x2":12.54,"y":-6.57,"y2":-6.57},{"x":12.7,"x2":13.62,"y":-6.59,"y2":-6.59},{"x":14.32,"x2":15.3,"y":-6.52,"y2":-6.52},{"x":13.84,"x2":14.57,"y":-6.72,"y2":-6.72},{"x":11.13,"x2":11.85,"y":-7.36,"y2":-7.36,"a":1},{"x":11.84,"x2":12.98,"y":-7.32,"y2":-7.32},{"x":13,"x2":14.28,"y":-7.42,"y2":-7.42},{"x":13.64,"x2":14.28,"y":-7.17,"y2":-7.17,"a":1},{"x":14.28,"x2":14.95,"y":-7.25,"y2":-7.25,"a":1},{"x":8.59,"x2":9.49,"y":-6.35,"y2":-6.32},{"x":8.59,"x2":9.28,"y":-4.61,"y2":-4.61},{"x":8.59,"x2":9.68,"y":-3.65,"y2":-3.65},{"x":8.59,"x2":10.97,"y":-7.16,"y2":-7.16},
{"x":16.09,"x2":16.72,"y":-2.6,"y2":-2.6},{"x":15.83,"x2":16.72,"y":-3.69,"y2":-3.69},{"x":17.01,"x2":17.74,"y":-3.59,"y2":-3.59},{"x":18.28,"x2":19.21,"y":-3.56,"y2":-3.56},{"x":19.2,"x2":19.94,"y":-3.59,"y2":-3.59},{"x":16.17,"x2":16.72,"y":-4.33,"y2":-4.33,"a":1},{"x":16.78,"x2":17.58,"y":-4.44,"y2":-4.44},{"x":18.53,"x2":19.04,"y":-4.18,"y2":-4.18,"a":1},{"x":19.03,"x2":19.51,"y":-4.31,"y2":-4.31,"a":1},{"x":19.57,"x2":19.94,"y":-4.2,"y2":-4.2},{"x":18.99,"x2":19.94,"y":-4.59,"y2":-4.59},{"x":18.2,"x2":18.63,"y":-5.3,"y2":-5.3,"a":1},{"x":15.57,"x2":16.86,"y":-5.81,"y2":-5.81},{"x":17.95,"x2":18.53,"y":-5.7,"y2":-5.7,"a":1},{"x":18.64,"x2":19.51,"y":-5.81,"y2":-5.81},{"x":17.68,"x2":19.42,"y":-6.47,"y2":-6.47},{"x":19.46,"x2":19.94,"y":-6.37,"y2":-6.37,"a":1},{"x":18.89,"x2":19.9,"y":-7.13,"y2":-7.13,"a":1},{"x":14.89,"x2":18.75,"y":-7.35,"y2":-7.35}
]
},
"encoding":{
"x":{"field":"x","type":"quantitative","title":null,"scale":{"domain":[-20,20],"nice":false,"zero":false},"axis":{"values":[-20,-15,-10,-5,0,5,10,15,20],"domain":false,"ticks":false,"grid":false,"labelFont":"Roboto","labelFontSize":61,"labelColor":"#2b2b2b","labelPadding":36,"labelOverlap":false,"labelFlush":false,"labelBound":false}},
"y":{"field":"y","type":"quantitative","title":null,"scale":{"domain":[-16,0],"nice":false,"zero":false},"axis":{"values":[0,-5,-10,-15],"domain":false,"ticks":false,"grid":false,"labelFont":"Roboto","labelFontSize":61,"labelColor":"#2b2b2b","labelPadding":36,"labelOffset":5,"labelOverlap":false,"labelFlush":false,"labelBound":false}}
},
"layer":[
{"data":{"name":"cells"},"mark":{"type":"rect"},"encoding":{"x2":{"field":"x2"},"y2":{"field":"y2"},
"color":{"field":"v","type":"quantitative","scale":{"domain":[0.05,0.0625,0.075,0.0875,0.1,0.1125,0.125,0.1375,0.15],"range":["#ffffd9","#edf8b1","#c7e9b4","#7fcdbb","#41b6c4","#1d91c0","#225ea8","#253494","#081d58"]},
"legend":{"type":"gradient","orient":"none","legendX":0,"legendY":868.5,"direction":"horizontal","padding":0,"gradientLength":1710,"gradientThickness":73,"gradientStrokeColor":"#2b2b2b","gradientStrokeWidth":6.5,"values":[0.06,0.08,0.1,0.12,0.14],"format":".2f","title":"Velocity v in mm/s","titleOrient":"bottom","titleAnchor":"middle","titleLimit":1700,"titleFont":"Roboto","titleFontWeight":"normal","titleFontSize":75,"titleColor":"#2b2b2b","titlePadding":26,"labelFont":"Roboto","labelFontSize":61,"labelColor":"#2b2b2b","labelOffset":38,"labelOverlap":false}}}},
{"data":{"name":"lines"},"mark":{"type":"line","color":"#0c0c0c","strokeWidth":4,"strokeCap":"butt","strokeJoin":"round","clip":true},"encoding":{"detail":{"field":"s"}}},
{"data":{"name":"dashes"},"mark":{"type":"rule","color":"#0c0c0c","strokeWidth":4},"encoding":{"x2":{"field":"x2"},"y2":{"field":"y2"}}},
{"data":{"name":"dashes"},"transform":[{"filter":"datum.a === 1"}],"mark":{"type":"point","shape":"triangle-right","filled":true,"color":"#0c0c0c","size":90,"opacity":1},"encoding":{"x":{"field":"x2","type":"quantitative","title":null},"y":{"field":"y2","type":"quantitative","title":null}}},
{"data":{"values":[{"x":-20,"x2":20,"y":0,"y2":-16}]},"mark":{"type":"rect","fillOpacity":0,"stroke":"#2b2b2b","strokeWidth":6},"encoding":{"x2":{"field":"x2"},"y2":{"field":"y2"}}},
{"data":{"values":[{"x":-23.96,"y":-2.59,"t":"s"}]},"mark":{"type":"text","align":"right","baseline":"alphabetic","fontSize":70,"fontWeight":"bold","font":"Roboto","color":"#111111"},"encoding":{"text":{"field":"t"}}},
{"data":{"values":[{"x":-24.4,"x2":-23.99,"y":-5,"y2":-5}]},"mark":{"type":"rule","color":"#3f8f8f","strokeWidth":5},"encoding":{"x2":{"field":"x2"},"y2":{"field":"y2"}}},
{"data":{"values":[{"x":-24.13,"x2":-24.13,"y":-6.14,"y2":-7.66}]},"mark":{"type":"rule","color":"#111111","strokeWidth":3},"encoding":{"x2":{"field":"x2"},"y2":{"field":"y2"}}},
{"data":{"values":[{"x":-24.4,"x2":-23.92,"y":-23.96,"y2":-23.96}]},"mark":{"type":"rule","color":"#111111","strokeWidth":8},"encoding":{"x2":{"field":"x2"},"y2":{"field":"y2"}}}
]}
